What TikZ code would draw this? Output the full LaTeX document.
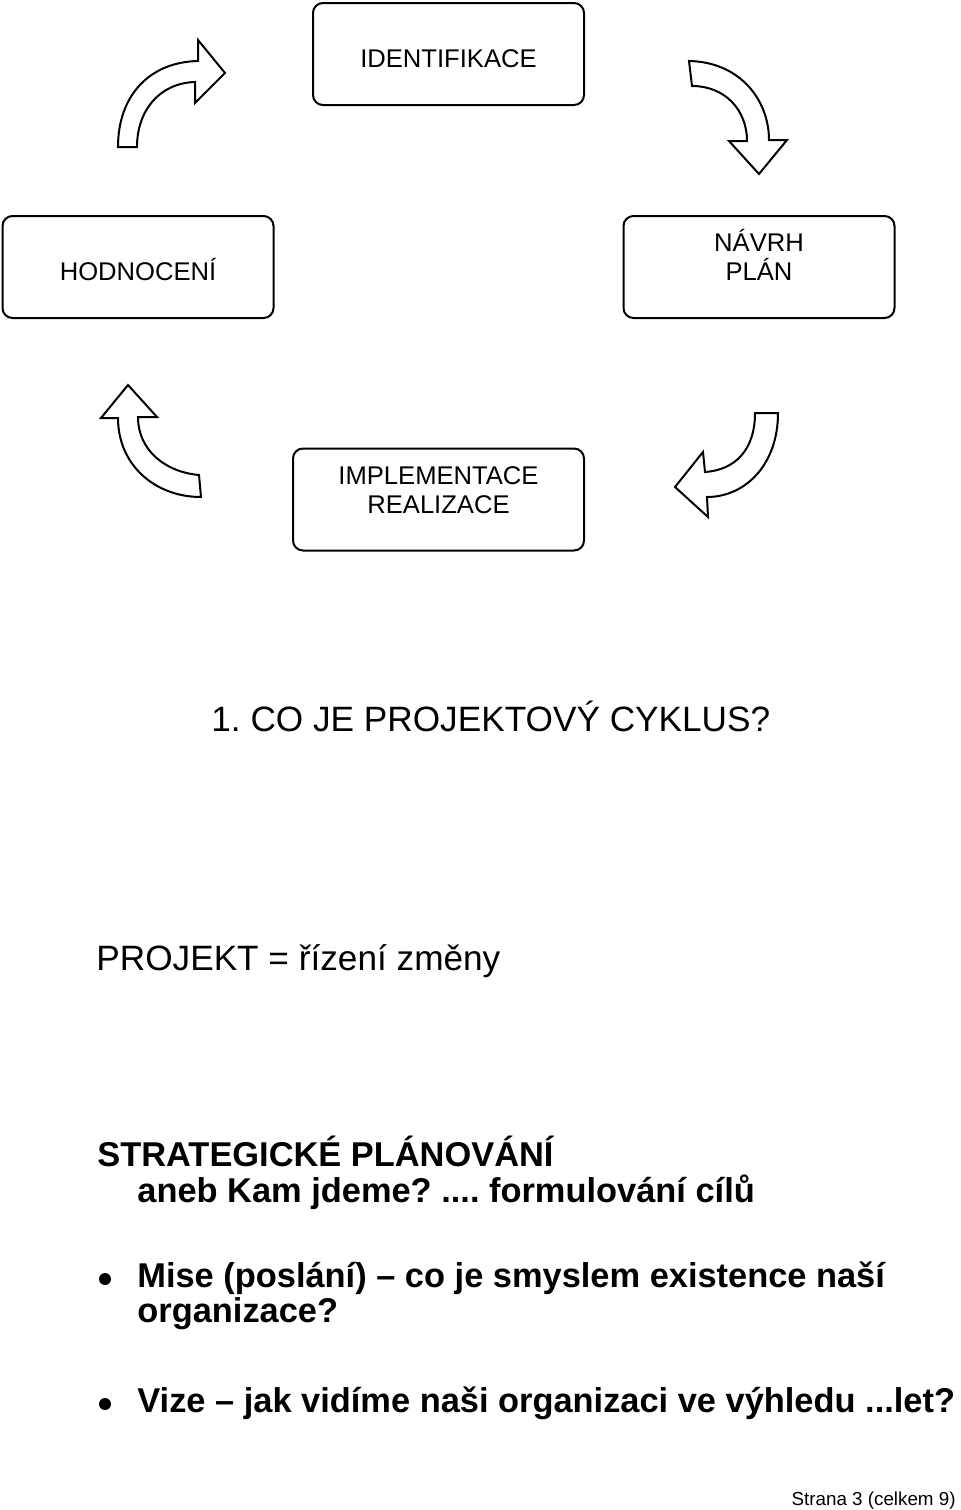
\documentclass[tikz,border=0pt]{standalone}
\usepackage{fontspec}
\setmainfont{Liberation Sans}
\usepackage{tikz}
\frenchspacing

\tikzset{
  stage/.style={draw, line width=1pt, rounded corners=5pt, minimum width=135.5pt, minimum height=51pt, inner sep=0pt},
  stagetext/.style={inner sep=0pt, align=center, font=\fontsize{12.8}{14.5}\selectfont},
  cyclearrow/.style={draw, line width=1pt, fill=white, line join=miter},
  bigtext/.style={inner sep=0pt, anchor=base west, font=\fontsize{17.6}{20}\selectfont},
  boldtext/.style={inner sep=0pt, anchor=base west, font=\fontsize{17.2}{20}\selectfont\bfseries},
  bullet/.style={circle, fill=black, inner sep=0pt, minimum size=6pt}
}

\begin{document}
\begin{tikzpicture}[x=0.5pt,y=-0.5pt]
\useasboundingbox (0,0) rectangle (960,1510);

% Boxes of the cycle
\node[stage] (ident) at (448.5,54) {};
\node[stage] (hodn) at (138,267) {};
\node[stage] (navrh) at (759,267) {};
\node[stage, minimum width=145.5pt] (impl) at (438.5,499.5) {};

% Box texts (base = last line)
\node[stagetext, anchor=base] (identtext) at (448.5,67) {IDENTIFIKACE};
\node[stagetext, anchor=base] (hodntext) at (138,280) {HODNOCENÍ};
\node[stagetext, anchor=base] (navrhtext) at (759,280) {NÁVRH\\PLÁN};
\node[stagetext, anchor=base] (impltext) at (438.5,513) {IMPLEMENTACE\\REALIZACE};

% Curved block arrows
% HODNOCENI -> IDENTIFIKACE
\draw[cyclearrow] (118,147) .. controls (118,95) and (150,62) .. (198,61) -- (198,40) -- (225,73)
  -- (195,103) -- (195,82) .. controls (160,83) and (137,110) .. (137,147) -- cycle;
% IDENTIFIKACE -> NAVRH
\draw[cyclearrow] (689,61) .. controls (740,62) and (769,100) .. (769,140) -- (787,140) -- (759,174)
  -- (729,141) -- (747,141) .. controls (747,110) and (725,86) .. (692,86) -- cycle;
% NAVRH -> IMPLEMENTACE
\draw[cyclearrow] (778,413) .. controls (778,465) and (745,497) .. (707,497) -- (708,517) -- (675,487)
  -- (703,452) -- (705,472) .. controls (735,470) and (755,450) .. (755,413) -- cycle;
% IMPLEMENTACE -> HODNOCENI
\draw[cyclearrow] (118,418) .. controls (118,465) and (155,497) .. (201,497) -- (199,475)
  .. controls (165,472) and (138,450) .. (138,417) -- (157,417) -- (128,385) -- (101,418) -- cycle;

% Heading
\node[bigtext] (title) at (211,731) {1. CO JE PROJEKTOVÝ CYKLUS?};
\node[bigtext] (projekt) at (96,970) {PROJEKT = řízení změny};

% Strategic planning
\node[boldtext] (strat) at (97,1166) {STRATEGICKÉ PLÁNOVÁNÍ};
\node[boldtext] (aneb) at (137,1202) {aneb Kam jdeme? .... formulování cílů};

% Bullets
\foreach \y in {1279,1404}
  \node[bullet] (b\y) at (105,\y) {};
\node[boldtext] (mise) at (137,1287) {Mise (poslání) -- co je smyslem existence naší};
\node[boldtext] (mise2) at (137,1322) {organizace?};
\node[boldtext] (vize) at (137,1412) {Vize -- jak vidíme naši organizaci ve výhledu ...let?};

% Page footer
\node[inner sep=0pt, anchor=base east, font=\fontsize{9.4}{11}\selectfont] (footer) at (956,1505) {Strana 3 (celkem 9)};

\end{tikzpicture}
\end{document}
